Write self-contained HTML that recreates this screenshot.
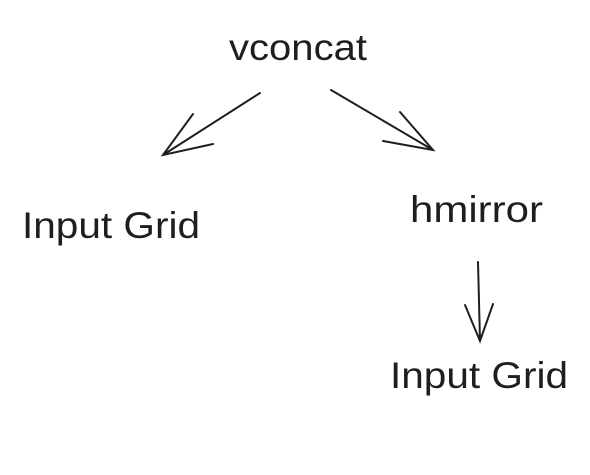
<!DOCTYPE html>
<html><head><style>html,body{margin:0;padding:0;background:#fff;}</style></head>
<body>
<svg width="590" height="475" xmlns="http://www.w3.org/2000/svg" style="display:block">
<rect width="590" height="475" fill="#fff"/>
<g font-family="Liberation Sans, sans-serif" font-size="37" fill="#1e1e1e">
<text x="229" y="60" textLength="138" lengthAdjust="spacingAndGlyphs">vconcat</text>
<text x="22" y="238" textLength="178" lengthAdjust="spacingAndGlyphs">Input Grid</text>
<text x="410" y="222" textLength="133" lengthAdjust="spacingAndGlyphs">hmirror</text>
<text x="390" y="388" textLength="178" lengthAdjust="spacingAndGlyphs">Input Grid</text>
</g>
<g stroke="#1e1e1e" stroke-width="2" fill="none" stroke-linecap="round">
<path d="M260 93 L163 155 M193 114 L163 155 L213 144"/>
<path d="M331 90 L433 150 M400 112 L433 150 L383 141"/>
<path d="M478 262 L480 341 M465 305 L480 341 L493 304"/>
</g>
</svg>
</body></html>
